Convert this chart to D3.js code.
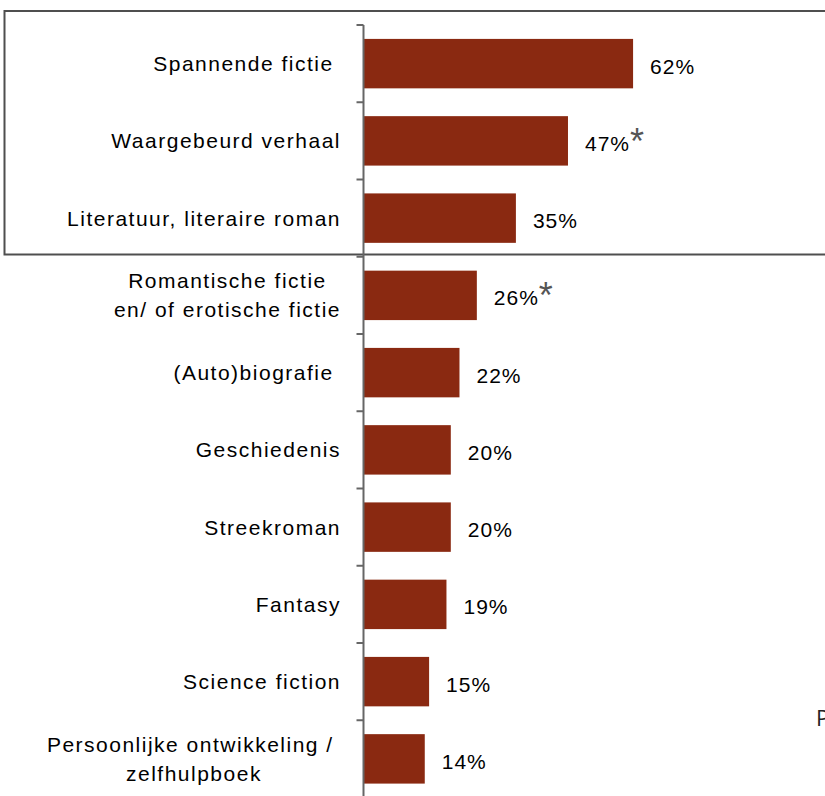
<!DOCTYPE html>
<html>
<head>
<meta charset="utf-8">
<script src="https://cdn.jsdelivr.net/npm/d3@7"></script>
<style>
    body { margin: 0; background: #fff; }
    text { font-family: "Liberation Sans", Arial, sans-serif; }
</style>
</head>
<body>
<div id="chartDiv"></div>
<script>

// categories (label lines) and percentages
var categories = [
    ["Spannende fictie "],
    ["Waargebeurd verhaal"],
    ["Literatuur, literaire roman"],
    ["Romantische fictie", "en/ of erotische fictie"],
    ["(Auto)biografie "],
    ["Geschiedenis"],
    ["Streekroman"],
    ["Fantasy"],
    ["Science fiction"],
    ["Persoonlijke ontwikkeling / ", "zelfhulpboek"]
];
var values = [62, 47, 35, 26, 22, 20, 20, 19, 15, 14];
var starred = [false, true, false, true, false, false, false, false, false, false];

var width = 825,
    height = 796;

var axisX = 363.5,
    labelRight = 341,
    fontSize = 21,
    lineHeight = 29;

var keys = categories.map(function (d, i) { return i; });

// Scales
var x = d3.scaleLinear().domain([0, 100]).range([364, 798]);
var y = d3.scaleBand().domain(keys).range([25, 797.5])
    .paddingInner(0.36).paddingOuter(0.18);

var svg = d3.select("#chartDiv").append("svg")
    .attr("width", width)
    .attr("height", height);

// highlight box round the top three
svg.append("rect")
    .attr("x", 4.5)
    .attr("y", 11)
    .attr("width", 840)
    .attr("height", 243.5)
    .style("fill", "none")
    .style("stroke", "#4f4f4f")
    .style("stroke-width", 2);

// bars
svg.selectAll(".bar")
    .data(values)
    .enter().append("rect")
    .attr("class", "bar")
    .attr("x", x(0))
    .attr("y", function (d, i) { return y(i); })
    .attr("width", function (d) { return x(d) - x(0); })
    .attr("height", y.bandwidth())
    .style("fill", "#8a2911");

// vertical axis line + ticks at band boundaries
svg.append("line")
    .attr("x1", axisX).attr("x2", axisX)
    .attr("y1", y.range()[0]).attr("y2", height)
    .style("stroke", "#666")
    .style("stroke-width", 2);

svg.selectAll(".tick")
    .data(d3.range(categories.length + 1))
    .enter().append("line")
    .attr("class", "tick")
    .attr("x1", axisX - 7).attr("x2", axisX)
    .attr("y1", function (i) { return y.range()[0] + i * y.step(); })
    .attr("y2", function (i) { return y.range()[0] + i * y.step(); })
    .style("stroke", "#666")
    .style("stroke-width", 2);

// category labels, multi line ones centred as a block
var labels = svg.selectAll(".catLabel")
    .data(categories)
    .enter().append("text")
    .attr("class", "catLabel")
    .style("font-size", fontSize + "px")
    .style("letter-spacing", "1.5px")
    .style("white-space", "pre")
    .attr("fill", "#000");

labels.each(function (lines, i) {
    var t = d3.select(this);
    var cy = y(i) + y.bandwidth() / 2;
    lines.forEach(function (l, j) {
        t.append("tspan")
            .attr("y", cy + 7.5 + (j - (lines.length - 1) / 2) * lineHeight)
            .text(l);
    });
    if (lines.length == 1) {
        t.attr("text-anchor", "end");
        t.selectAll("tspan").attr("x", labelRight);
    } else {
        var maxW = d3.max(t.selectAll("tspan").nodes(), function (n) {
            return n.getComputedTextLength();
        });
        t.attr("text-anchor", "middle");
        t.selectAll("tspan").attr("x", labelRight - maxW / 2);
    }
});

// value labels
var valueLabels = svg.selectAll(".valLabel")
    .data(values)
    .enter().append("text")
    .attr("class", "valLabel")
    .attr("x", function (d) { return x(d) + 17; })
    .attr("y", function (d, i) { return y(i) + y.bandwidth() / 2 + 10; })
    .style("font-size", fontSize + "px")
    .style("letter-spacing", "1px")
    .attr("fill", "#000")
    .text(function (d) { return d + "%"; });

// asterisks behind the significant ones
valueLabels.each(function (d, i) {
    if (!starred[i]) return;
    var w = this.getComputedTextLength();
    svg.append("text")
        .attr("x", x(d) + 17 + w)
        .attr("y", y(i) + y.bandwidth() / 2 + 13)
        .style("font-size", "36px")
        .attr("fill", "#555")
        .text("*");
});

// text cut off at the right edge (as in the source)
svg.append("text")
    .attr("x", 816)
    .attr("y", 726)
    .style("font-size", "22px")
    .style("font-family", "'Open Sans', sans-serif")
    .attr("fill", "#222")
    .text("P");

</script>
</body>
</html>
